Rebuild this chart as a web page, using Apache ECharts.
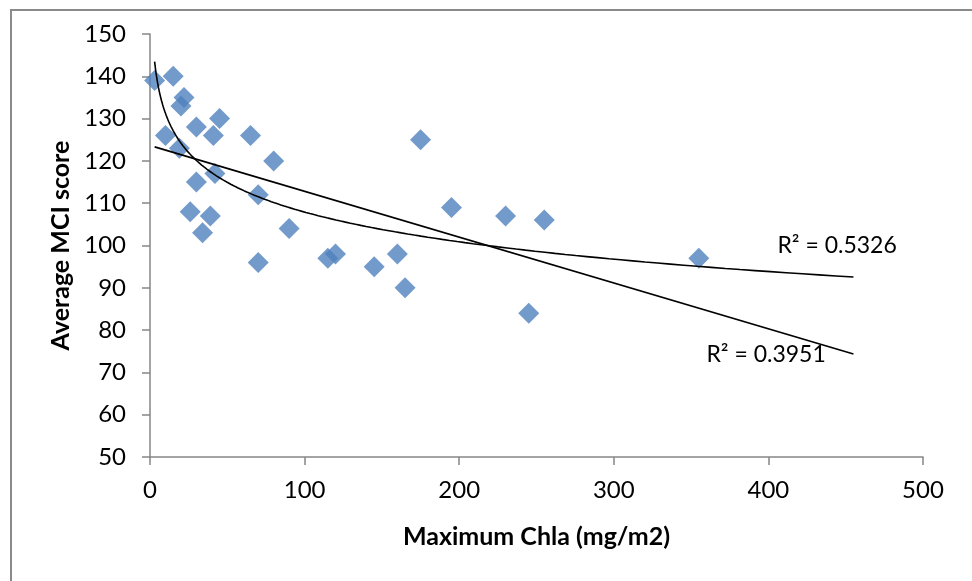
<!DOCTYPE html>
<html>
<head>
<meta charset="utf-8">
<script src="https://cdn.jsdelivr.net/npm/echarts@6/dist/echarts.min.js"></script>
<style>html,body{margin:0;padding:0;background:#fff}#c{width:972px;height:581px}</style>
</head>
<body>
<div id="c"></div>
<script>
// Data
var chlaValues = [3,15,10,22,20,30,45,41,19,30,42,26,39,34,65,80,70,70,90,115,120,145,160,165,175,195,230,255,245,355];
var mciValues  = [139,140,126,135,133,128,130,126,123,115,117,108,107,103,126,120,112,96,104,97,98,95,98,90,125,109,107,106,84,97];
var xTicks = [0,100,200,300,400,500];
var yTicks = [50,60,70,80,90,100,110,120,130,140,150];
var linearR2Label = 'R² = 0.3951';
var logR2Label = 'R² = 0.5326';
var forecastForward = 100;

// Least-squares fits computed from the data
function fit(xs, ys){
  var n = xs.length, mx = 0, my = 0;
  for (var i=0;i<n;i++){ mx += xs[i]; my += ys[i]; }
  mx/=n; my/=n;
  var sxy=0,sxx=0;
  for (var j=0;j<n;j++){ sxy += (xs[j]-mx)*(ys[j]-my); sxx += (xs[j]-mx)*(xs[j]-mx); }
  var a = sxy/sxx; return {a:a, b:my-a*mx};
}
var lin = fit(chlaValues, mciValues);
var lg = fit(chlaValues.map(Math.log), mciValues);
var xmin = Math.min.apply(null, chlaValues), xmax = Math.max.apply(null, chlaValues) + forecastForward;
var linData = [[xmin, lin.b + lin.a*xmin], [xmax, lin.b + lin.a*xmax]];
var logData = [];
for (var k=0;k<=200;k++){ var xv = xmin*Math.pow(xmax/xmin, k/200); logData.push([xv, lg.b + lg.a*Math.log(xv)]); }

var points = chlaValues.map(function(v,i){ return [v, mciValues[i]]; });
var FONT = 'Lato';
var chart = echarts.init(document.getElementById('c'), null, {renderer:'canvas'});
chart.setOption({
  animation:false,
  backgroundColor:'#fff',
  graphic:[{type:'rect', shape:{x:11, y:10, width:1000, height:700}, style:{fill:'none', stroke:'#8a8a8a', lineWidth:2}, silent:true}],
  grid:{left:150, right:49, top:34, bottom:124},
  xAxis:{type:'value', min:xTicks[0], max:xTicks[xTicks.length-1], interval:100,
    name:'Maximum Chla (mg/m2)', nameLocation:'middle', nameGap:67,
    nameTextStyle:{fontFamily:FONT, fontWeight:'bold', fontSize:25, color:'#000'},
    axisLine:{show:true, lineStyle:{color:'#868686', width:1.5}},
    axisTick:{show:true, length:8, lineStyle:{color:'#868686', width:1.5}},
    axisLabel:{fontFamily:FONT, fontSize:24, color:'#000', margin:21},
    splitLine:{show:false}},
  yAxis:{type:'value', min:yTicks[0], max:yTicks[yTicks.length-1], interval:10,
    name:'Average MCI score', nameLocation:'middle', nameGap:77, nameRotate:90,
    nameTextStyle:{fontFamily:FONT, fontWeight:'bold', fontSize:25, color:'#000'},
    axisLine:{show:true, lineStyle:{color:'#868686', width:1.5}},
    axisTick:{show:true, length:8, lineStyle:{color:'#868686', width:1.5}},
    axisLabel:{fontFamily:FONT, fontSize:24, color:'#000', margin:24},
    splitLine:{show:false}},
  series:[
    {type:'scatter', data:points, symbol:'diamond', symbolSize:21, itemStyle:{color:'#4F81BD'}, z:2},
    {type:'line', data:logData, showSymbol:false, symbol:'none', smooth:false, lineStyle:{color:'#000', width:1.6}, z:3,
      endLabel:{show:true, formatter:logR2Label, fontFamily:FONT, fontSize:23, color:'#000', offset:[-84,-31]}},
    {type:'line', data:linData, showSymbol:false, symbol:'none', lineStyle:{color:'#000', width:1.6}, z:3,
      endLabel:{show:true, formatter:linearR2Label, fontFamily:FONT, fontSize:23, color:'#000', offset:[-155,1]}}
  ]
});
</script>
</body>
</html>
